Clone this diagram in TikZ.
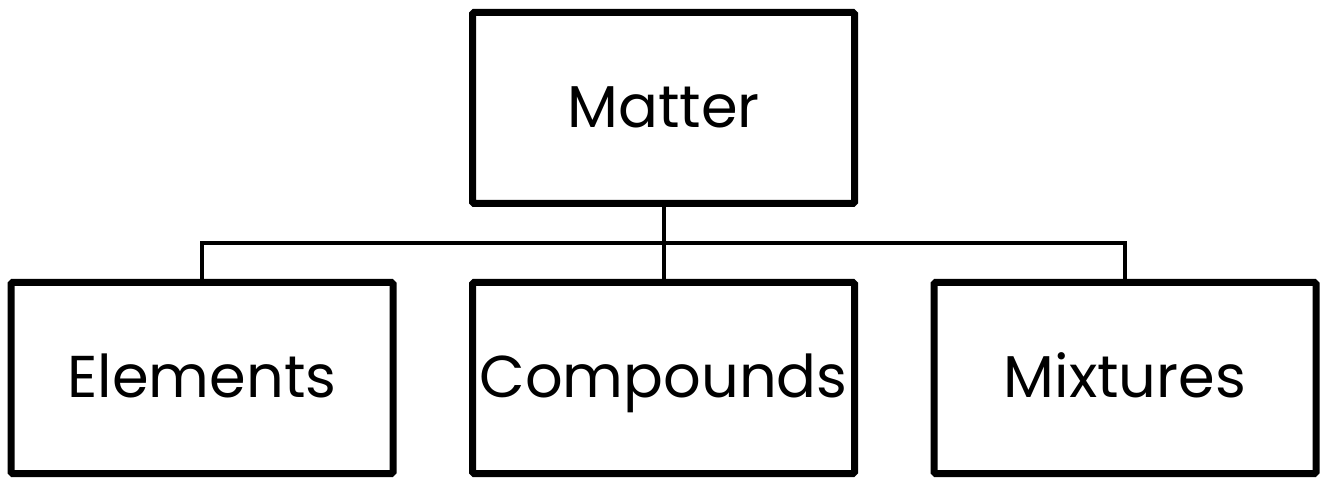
\documentclass[tikz,border=0pt]{standalone}
\usepackage{fontspec}
\setmainfont{Poppins}
\usetikzlibrary{shadows}
\tikzset{
  topicbox/.style={draw=black, line width=7pt, fill=white, rounded corners=1.5pt,
    minimum width=382pt, minimum height=191pt, inner sep=0pt,
    text height=40pt, text depth=0pt,
    font=\fontsize{59}{70}\selectfont,
    drop shadow={opacity=0.18, shadow xshift=1.5pt, shadow yshift=-1.5pt}},
  branch/.style={line width=4pt}
}
\begin{document}
\begin{tikzpicture}[x=1pt, y=1pt]
    \useasboundingbox (0,0) rectangle (1326,477);
    % Top box
    \node[topicbox] (matter) at (663.5,369) {Matter};
    
    % Three boxes below
    \node[topicbox] (elements) at (202,99) {Elements};
    \node[topicbox] (compounds) at (663.5,99) {Compounds};
    \node[topicbox] (mixtures) at (1125,99) {Mixtures};
    
    % Branch lines
    \coordinate (bus) at (663.5,234);
    \draw[branch] (matter.south) -- (bus);
    \draw[branch] (elements.north) |- (bus) -| (mixtures.north);
    \draw[branch] (bus) -- (compounds.north);
\end{tikzpicture}
\end{document}
